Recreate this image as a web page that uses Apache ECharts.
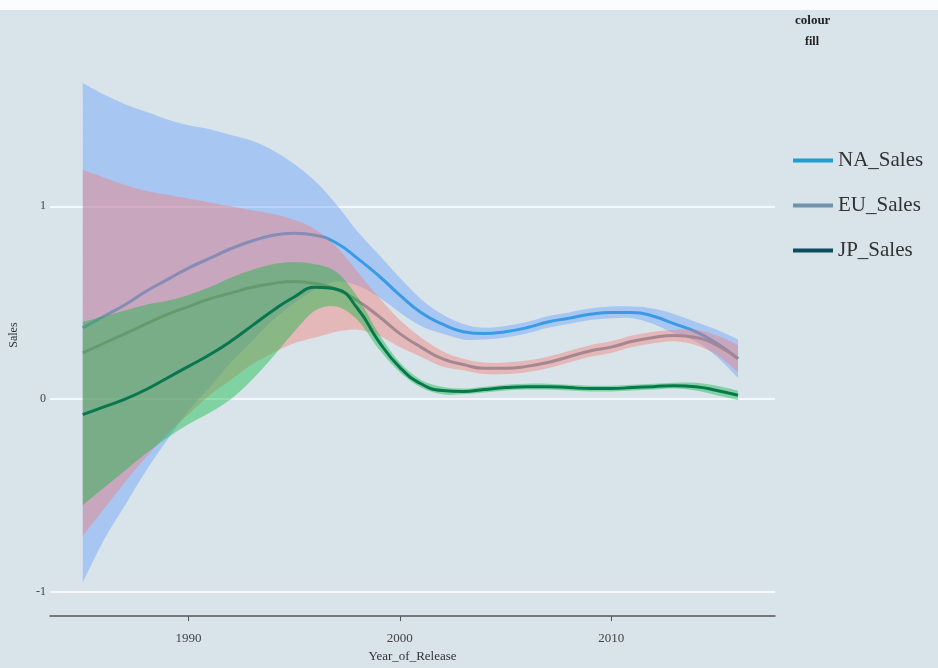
<!DOCTYPE html>
<html>
<head>
<meta charset="utf-8">
<title>Sales by Year_of_Release</title>
<script src="https://cdn.jsdelivr.net/npm/echarts@6/dist/echarts.min.js"></script>
<style>
  html, body { margin: 0; padding: 0; background: #ffffff; }
  #chart { width: 938px; height: 668px; }
</style>
</head>
<body>
<div id="chart"></div>
<script>
// Release years on the x axis
const years = [1985, 1986, 1987, 1988, 1989, 1990, 1991, 1992, 1993, 1994, 1995, 1996,
  1997, 1998, 1999, 2000, 2001, 2002, 2003, 2004, 2005, 2006, 2007, 2008, 2009, 2010,
  2011, 2012, 2013, 2014, 2015, 2016];

// Smoothed fit and confidence ribbon for each region
const naFit  = [0.37, 0.43, 0.49, 0.56, 0.62, 0.68, 0.73, 0.78, 0.82, 0.85, 0.86, 0.85, 0.81, 0.73, 0.64, 0.54, 0.45, 0.39, 0.35, 0.34, 0.35, 0.37, 0.40, 0.42, 0.44, 0.45, 0.45, 0.43, 0.39, 0.35, 0.29, 0.21];
const naHigh = [1.64, 1.58, 1.53, 1.49, 1.45, 1.42, 1.40, 1.37, 1.34, 1.29, 1.22, 1.13, 1.01, 0.87, 0.75, 0.63, 0.52, 0.44, 0.39, 0.37, 0.38, 0.40, 0.43, 0.45, 0.47, 0.48, 0.48, 0.47, 0.44, 0.40, 0.36, 0.31];
const naLow  = [-0.95, -0.73, -0.55, -0.37, -0.21, -0.06, 0.06, 0.19, 0.30, 0.41, 0.50, 0.57, 0.61, 0.59, 0.53, 0.45, 0.38, 0.34, 0.31, 0.31, 0.32, 0.34, 0.37, 0.39, 0.41, 0.42, 0.42, 0.39, 0.34, 0.30, 0.22, 0.11];

const euFit  = [0.24, 0.29, 0.34, 0.39, 0.44, 0.48, 0.52, 0.55, 0.58, 0.60, 0.61, 0.60, 0.57, 0.51, 0.43, 0.34, 0.27, 0.21, 0.18, 0.16, 0.16, 0.17, 0.19, 0.22, 0.25, 0.27, 0.30, 0.32, 0.33, 0.32, 0.28, 0.21];
const euHigh = [1.19, 1.15, 1.11, 1.08, 1.06, 1.04, 1.02, 1.00, 0.98, 0.96, 0.93, 0.88, 0.79, 0.66, 0.53, 0.41, 0.32, 0.25, 0.21, 0.19, 0.19, 0.20, 0.22, 0.25, 0.28, 0.30, 0.33, 0.35, 0.36, 0.36, 0.33, 0.28];
const euLow  = [-0.71, -0.57, -0.43, -0.30, -0.18, -0.08, 0.02, 0.10, 0.18, 0.24, 0.29, 0.32, 0.35, 0.36, 0.33, 0.27, 0.22, 0.17, 0.15, 0.13, 0.13, 0.14, 0.16, 0.19, 0.22, 0.24, 0.27, 0.29, 0.30, 0.28, 0.23, 0.14];

const jpFit  = [-0.08, -0.04, 0.00, 0.05, 0.11, 0.17, 0.23, 0.30, 0.38, 0.46, 0.53, 0.58, 0.57, 0.47, 0.30, 0.165, 0.08, 0.045, 0.04, 0.05, 0.06, 0.065, 0.065, 0.06, 0.055, 0.055, 0.06, 0.065, 0.07, 0.065, 0.045, 0.02];
const jpHigh = [0.40, 0.43, 0.46, 0.49, 0.51, 0.54, 0.58, 0.63, 0.67, 0.70, 0.71, 0.70, 0.66, 0.53, 0.34, 0.19, 0.10, 0.065, 0.055, 0.065, 0.075, 0.08, 0.08, 0.075, 0.07, 0.07, 0.075, 0.08, 0.085, 0.085, 0.07, 0.045];
const jpLow  = [-0.55, -0.46, -0.37, -0.28, -0.20, -0.13, -0.07, 0.00, 0.10, 0.22, 0.35, 0.46, 0.48, 0.41, 0.26, 0.14, 0.06, 0.025, 0.025, 0.035, 0.045, 0.05, 0.05, 0.045, 0.04, 0.04, 0.045, 0.05, 0.055, 0.045, 0.02, -0.005];

// Axis tick labels
const xTicks = [1990, 2000, 2010];
const yTicks = [-1, 0, 1];

const SERIF = '"Liberation Serif", "DejaVu Serif", serif';

const regions = [
  { name: 'NA_Sales', fit: naFit, low: naLow, high: naHigh, line: '#1f9bd6', fill: 'rgba(97,156,255,0.4)' },
  { name: 'EU_Sales', fit: euFit, low: euLow, high: euHigh, line: '#6f93a8', fill: 'rgba(248,118,109,0.4)' },
  { name: 'JP_Sales', fit: jpFit, low: jpLow, high: jpHigh, line: '#0f4c5e', fill: 'rgba(0,186,56,0.4)' }
];

// Catmull-Rom spline through pixel points, as cubic bezier path commands
function splinePath(pts) {
  let d = '';
  const n = pts.length;
  for (let i = 0; i < n - 1; i++) {
    const p0 = pts[Math.max(i - 1, 0)];
    const p1 = pts[i];
    const p2 = pts[i + 1];
    const p3 = pts[Math.min(i + 2, n - 1)];
    const c1x = p1[0] + (p2[0] - p0[0]) / 6;
    const c1y = p1[1] + (p2[1] - p0[1]) / 6;
    const c2x = p2[0] - (p3[0] - p1[0]) / 6;
    const c2y = p2[1] - (p3[1] - p1[1]) / 6;
    d += ' C' + c1x + ' ' + c1y + ' ' + c2x + ' ' + c2y + ' ' + p2[0] + ' ' + p2[1];
  }
  return d;
}

function ribbonRenderer(r) {
  return function (params, api) {
    if (params.dataIndex !== 0) return null;
    const upper = years.map(function (y, i) { return api.coord([y, r.high[i]]); });
    const lower = years.map(function (y, i) { return api.coord([y, r.low[i]]); }).reverse();
    const d = 'M' + upper[0][0] + ' ' + upper[0][1] + splinePath(upper) +
      ' L' + lower[0][0] + ' ' + lower[0][1] + splinePath(lower) + ' Z';
    return {
      type: 'path',
      shape: { pathData: d },
      style: { fill: r.fill, stroke: null }
    };
  };
}

// each curve sits under its own ribbon and the ribbons of the regions drawn after it
const series = [];
regions.forEach(function (r, k) {
  series.push({
    name: r.name,
    type: 'line',
    z: 2 + k * 2,
    smooth: true,
    symbol: 'none',
    data: years.map(function (y, i) { return [y, r.fit[i]]; }),
    lineStyle: { color: r.line, width: 3 },
    itemStyle: { color: r.line }
  });
  series.push({
    name: r.name + ' ribbon',
    type: 'custom',
    z: 3 + k * 2,
    silent: true,
    renderItem: ribbonRenderer(r),
    encode: { x: 0, y: [1, 2] },
    data: years.map(function (y, i) { return [y, r.low[i], r.high[i]]; })
  });
});

const chart = echarts.init(document.getElementById('chart'), null, { renderer: 'canvas' });
chart.setOption({
  backgroundColor: '#d8e3ea',
  animation: false,
  graphic: [
    { type: 'rect', left: 0, top: 0, shape: { width: 938, height: 10 }, style: { fill: '#fbfcfd' }, z: -1 },
    { type: 'text', left: 795, top: 14, style: { text: 'colour', font: 'bold 13px ' + SERIF, fill: '#222' } },
    { type: 'text', left: 805, top: 36, style: { text: 'fill', font: 'bold 12px ' + SERIF, fill: '#222' } }
  ],
  legend: {
    data: regions.map(function (r) { return r.name; }),
    orient: 'vertical',
    left: 788,
    top: 145,
    icon: 'rect',
    itemWidth: 40,
    itemHeight: 4,
    itemGap: 24,
    textStyle: { fontFamily: SERIF, fontSize: 21, color: '#333' }
  },
  grid: { left: 49, right: 163, top: 54, bottom: 44, containLabel: false },
  xAxis: {
    type: 'value',
    min: 1983.45,
    max: 2017.75,
    name: 'Year_of_Release',
    nameLocation: 'middle',
    nameGap: 30,
    nameTextStyle: { fontFamily: SERIF, fontSize: 13, color: '#333' },
    axisLine: { show: true, onZero: false, lineStyle: { color: '#555', width: 1.5 } },
    axisTick: { show: true, customValues: xTicks, length: 5, lineStyle: { color: '#555' } },
    axisLabel: {
      customValues: xTicks,
      formatter: function (v) { return String(v); },
      fontFamily: SERIF, fontSize: 13, color: '#444', margin: 16
    },
    splitLine: { show: false }
  },
  yAxis: {
    type: 'value',
    min: -1.125,
    max: 1.79,
    name: 'Sales',
    nameLocation: 'middle',
    nameGap: 30,
    nameTextStyle: { fontFamily: SERIF, fontSize: 12, color: '#333' },
    axisLine: { show: false },
    axisTick: { show: false, customValues: yTicks },
    axisLabel: { customValues: yTicks, fontFamily: SERIF, fontSize: 12, color: '#444', margin: 4 },
    splitLine: { show: true, lineStyle: { color: '#ffffff', width: 1.5 } }
  },
  series: series
});
</script>
</body>
</html>
